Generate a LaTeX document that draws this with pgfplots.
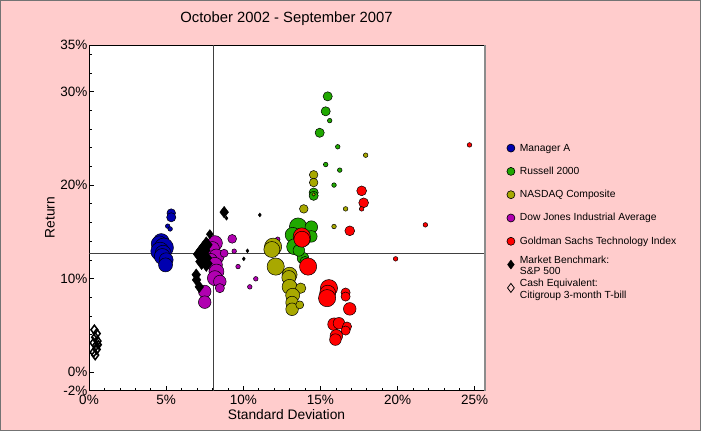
\documentclass[border=0pt]{standalone}
\usepackage{pgfplots}
\pgfplotsset{compat=1.18}
\usepackage{fontspec}
\setmainfont{Liberation Sans}
\definecolor{bgpink}{RGB}{255,204,204}
\definecolor{mgrA}{RGB}{0,0,176}
\definecolor{russ}{RGB}{32,168,0}
\definecolor{nasdaq}{RGB}{168,168,0}
\definecolor{dow}{RGB}{176,0,176}
\definecolor{gs}{RGB}{255,0,0}
\newcommand{\twoline}[2]{\smash{\raisebox{-7.2pt}{\begin{tabular}[b]{@{}l@{}}#1\\#2\end{tabular}}}}
\pgfplotsset{
  bubble/.style={scatter, only marks, mark=*, forget plot,
    mark options={line width=0.5pt},
    scatter/use mapped color={draw=black, fill=#1},
    visualization depends on={\thisrow{r} \as \rad},
    scatter/@pre marker code/.append style={/tikz/mark size=\rad},
    point meta=\thisrow{r}},
  dia/.style={scatter, only marks, mark=diamond*, forget plot,
    mark options={line width=0.4pt},
    scatter/use mapped color={draw=black, fill=black},
    visualization depends on={\thisrow{r} \as \rad},
    scatter/@pre marker code/.append style={/tikz/mark size=\rad},
    point meta=\thisrow{r}},
  odia/.style={scatter, only marks, mark=diamond, forget plot,
    mark options={line width=1.5pt},
    scatter/use mapped color={draw=black, fill=white},
    visualization depends on={\thisrow{r} \as \rad},
    scatter/@pre marker code/.append style={/tikz/mark size=\rad},
    point meta=\thisrow{r}},
  lgimg/.style={legend image code/.code={\draw[mark repeat=2,mark phase=2] plot coordinates {(0pt,0pt) (5pt,0pt) (10pt,0pt)};}},
}
\pgfplotstableread{
x y r
5.33 17.0 4.3
5.33 16.55 4.6
5.10 15.6 2.3
5.26 15.3 2.3
4.68 13.95 8
4.55 13.7 8
4.85 13.3 9.6
4.60 12.9 9.2
4.80 12.7 8
4.75 12.35 8
5.0 12.0 7
4.96 11.45 7
}\mgrAdata
\pgfplotstableread{
x y r
8.16 13.78 7.5
8.0 13.2 7
8.26 12.35 7.5
7.9 12.0 6.3
8.16 11.46 7.5
8.26 10.74 7.5
8.16 10.03 7.5
8.48 9.67 6.3
8.48 8.96 4.6
7.5 8.6 6.3
7.5 7.46 6.3
8.76 12.7 4
9.28 14.24 4.4
9.41 12.92 2.3
9.66 11.27 2.3
10.81 9.96 2.3
10.42 9.1 2.3
12.23 14.2 2.3
}\dowdata
\pgfplotstableread{
x y r
8.76 17.1 5.8
7.83 14.74 4.6
7.6 13.6 8
7.4 13.0 9.2
7.2 12.6 9.2
7.5 12.2 9.2
7.3 11.8 8
7.6 11.6 8
6.95 10.4 5.8
6.97 9.85 5.8
7.15 9.1 5.8
8.91 16.45 2
11.07 16.8 2
10.27 12.96 2
10.03 12.1 2
}\spdata
\pgfplotstableread{
x y r
15.47 29.5 4.6
15.34 27.9 4.6
15.6 26.9 2.3
14.95 25.6 4.6
16.12 24.1 2.3
15.34 22.2 2.3
16.25 21.6 2.3
15.88 20.0 2.3
14.56 19.2 4.6
14.56 18.85 4.6
13.55 15.56 8.6
14.41 15.5 6.3
13.2 14.67 7.5
14.41 14.5 5.8
13.9 14.2 7
13.33 13.4 8
13.87 12.17 5.8
14.0 11.8 5.2
13.6 13.0 5.8
}\russdata
\pgfplotstableread{
x y r
14.56 21.1 4.3
14.56 20.27 4.3
14.56 19.0 1.7
13.92 17.45 4.3
17.93 23.2 2.3
16.63 17.45 2.3
15.88 15.56 2.3
11.93 13.4 8.6
11.85 13.1 8
12.1 11.27 8.6
13.0 10.4 7.5
12.95 10.1 7
13.0 9.1 7.5
13.72 8.96 5.2
13.2 8.2 7
13.16 7.42 6.3
13.16 6.7 6.3
13.66 7.17 4
}\nasdata
\pgfplotstableread{
x y r
13.79 14.5 8.6
13.8 14.2 8
14.2 11.27 8.6
15.55 8.96 8.6
15.47 8.42 8
15.43 7.89 8.6
16.63 8.49 4.6
16.63 8.06 4.6
16.9 6.74 6.3
15.88 5.1 6.3
16.2 5.2 5.8
16.72 4.85 4.6
16.63 4.42 4.6
16.03 3.85 6.3
15.97 3.45 5.8
16.9 15.1 4.9
17.67 19.38 4.9
17.8 18.1 4.9
17.67 17.45 2.3
19.87 12.1 2.3
21.8 15.74 2.3
24.66 24.3 2.3
}\gsdata
\pgfplotstableread{
x y r
0.35 4.5 4.6
0.5 4.1 4.6
0.4 3.7 4.6
0.55 3.3 4.6
0.3 3.1 4.6
0.45 2.8 4.6
0.5 2.4 4.6
0.3 2.1 4.6
0.4 1.8 4.6
0.6 2.9 4.0
}\tbilldata
\begin{document}
\begin{tikzpicture}[x=1pt,y=1pt]
\fill[bgpink] (0,0) rectangle (701,431);
\draw[black!55, line width=1pt] (0.5,0.5) rectangle (700.5,430.5);
\begin{axis}[
  at={(89pt,40.5pt)}, anchor=south west,
  scale only axis, width=395pt, height=345.5pt,
  xmin=0, xmax=25.6, ymin=-2, ymax=35,
  axis background/.style={fill=white},
  axis line style={black, line width=0.8pt},
  xtick={0,5,...,25}, minor xtick={1,...,25},
  ytick={-2,0,10,20,30,35}, minor ytick={2,4,...,34},
  xticklabel={\pgfmathprintnumber{\tick}\%},
  yticklabel={\pgfmathprintnumber{\tick}\%},
  /pgf/number format/assume math mode=true,
  tick align=inside, xtick pos=left, ytick pos=left,
  major tick length=4.5pt, minor tick length=3pt,
  every tick/.style={black, line width=0.5pt},
  tick label style={font=\fontsize{13.5}{15}\selectfont, inner sep=0pt},
  xticklabel style={anchor=center, yshift=-9.5pt},
  yticklabel style={anchor=east, xshift=-1.5pt},
  xlabel={Standard Deviation},
  ylabel={Return},
  label style={font=\fontsize{13.8}{15}\selectfont},
  xlabel style={at={(axis description cs:0.5,-0.071)}, anchor=center},
  ylabel style={at={(axis description cs:-0.0987,0.5)}, anchor=center},
  title={October 2002 - September 2007},
  title style={font=\fontsize{14.8}{16}\selectfont, at={(axis description cs:0.5,1.06)}, anchor=center},
  legend style={at={(1.0575,0.721)}, anchor=north west, draw=none, fill=none,
    font=\fontsize{10.3}{11.5}\selectfont, row sep=10.3pt, inner sep=0pt,
    cells={anchor=west, align=left, inner sep=2pt, text height=7.5pt, text depth=2.2pt},
    /tikz/every odd column/.append style={column sep=3pt}},
  after end axis/.code={\draw[black!45, line width=2.2pt] ([xshift=1.1pt]rel axis cs:1,0) -- ([xshift=1.1pt]rel axis cs:1,1);},
]
\addlegendimage{lgimg, only marks, mark=*, mark size=4pt, mark options={draw=black, fill=mgrA, line width=0.6pt}}
\addlegendentry{Manager A}
\addlegendimage{lgimg, only marks, mark=*, mark size=4pt, mark options={draw=black, fill=russ, line width=0.6pt}}
\addlegendentry{Russell 2000}
\addlegendimage{lgimg, only marks, mark=*, mark size=4pt, mark options={draw=black, fill=nasdaq, line width=0.6pt}}
\addlegendentry{NASDAQ Composite}
\addlegendimage{lgimg, only marks, mark=*, mark size=4pt, mark options={draw=black, fill=dow, line width=0.6pt}}
\addlegendentry{Dow Jones Industrial Average}
\addlegendimage{lgimg, only marks, mark=*, mark size=4pt, mark options={draw=black, fill=gs, line width=0.6pt}}
\addlegendentry{Goldman Sachs Technology Index}
\addlegendimage{lgimg, only marks, mark=diamond*, mark size=4.5pt, mark options={draw=black, fill=black}}
\addlegendentry{\twoline{Market Benchmark:}{S\&P 500}}
\addlegendimage{lgimg, only marks, mark=diamond, mark size=4.5pt, mark options={draw=black, fill=white, line width=0.8pt}}
\addlegendentry{\twoline{Cash Equivalent:}{Citigroup 3-month T-bill}}

\addplot[forget plot, black!75, line width=0.9pt] coordinates {(8.05,-2) (8.05,35)};
\addplot[forget plot, black!75, line width=0.9pt] coordinates {(0,12.65) (25.6,12.65)};

\addplot[bubble=mgrA] table[x=x,y=y] {\mgrAdata};
\addplot[bubble=dow] table[x=x,y=y] {\dowdata};
\addplot[dia] table[x=x,y=y] {\spdata};
\addplot[bubble=russ] table[x=x,y=y] {\russdata};
\addplot[bubble=nasdaq] table[x=x,y=y] {\nasdata};
\addplot[bubble=gs] table[x=x,y=y] {\gsdata};
\addplot[odia] table[x=x,y=y] {\tbilldata};
\end{axis}
\end{tikzpicture}
\end{document}
